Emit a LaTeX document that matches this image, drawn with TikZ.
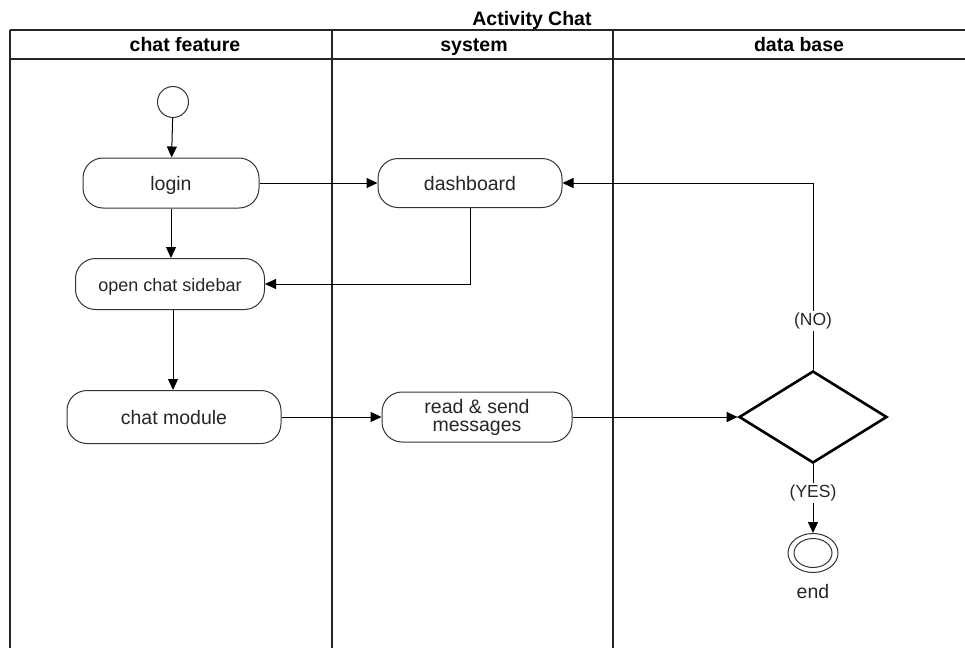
\documentclass[tikz,border=0pt]{standalone}
\usepackage{fontspec}
\setmainfont{Liberation Sans}
\usetikzlibrary{shapes.geometric,arrows.meta}
\begin{document}
\begin{tikzpicture}[x=1pt,y=-1pt,
  lane/.style={draw=black!85,line width=1.2pt},
  actbox/.style={draw=black!80,line width=1pt,rounded corners=20pt,fill=white,
    font=\fontsize{19.5}{19}\selectfont,text=black!85,align=center},
  act/.style={actbox,text height=14pt,text depth=0pt},
  flow/.style={draw=black,line width=1pt,-{Triangle[length=11pt,width=10pt]}},
  lbl/.style={fill=white,font=\fontsize{17.5}{19}\selectfont,text=black!85,inner sep=2pt},
  hdr/.style={font=\bfseries\fontsize{19.5}{21}\selectfont,anchor=base}]
\useasboundingbox (0,0) rectangle (965,648);
\fill[white] (0,0) rectangle (965,648);

% swimlane frame
\node[hdr] (title) at (532,25) {Activity Chat};
\draw[lane] (10,30) -- (965,30);
\draw[lane] (10,59) -- (965,59);
\draw[lane] (10,30) -- (10,648);
\draw[lane] (332,30) -- (332,648);
\draw[lane] (613,30) -- (613,648);
\node[hdr] (lane1) at (185,51.5) {chat feature};
\node[hdr] (lane2) at (474,51.5) {system};
\node[hdr] (lane3) at (799,51.5) {data base};

% activities
\node[draw=black!80,line width=1pt,circle,minimum size=31pt,inner sep=0pt] (start) at (173,102) {};
\node[act,minimum width=176pt,minimum height=50pt] (login) at (171,183) {login};
\node[act,minimum width=189pt,minimum height=51pt,font=\fontsize{18}{19}\selectfont] (sidebar) at (170,284) {open chat sidebar};
\node[act,minimum width=214pt,minimum height=53pt] (module) at (174,417) {chat module};
\node[act,minimum width=184pt,minimum height=49pt] (dash) at (470,183) {dashboard};
\node[actbox,minimum width=190pt,minimum height=50pt,font=\fontsize{19.5}{18}\selectfont] (rs) at (477,417) {read \& send\\messages};
\node[diamond,draw=black,line width=2.6pt,minimum width=148pt,minimum height=92pt,inner sep=0pt,aspect=1.6] (dec) at (813,417) {};
\node[ellipse,draw=black!80,line width=1pt,minimum width=50pt,minimum height=39pt,inner sep=0pt] (endo) at (813,553) {};
\node[ellipse,draw=black!80,line width=1pt,minimum width=38pt,minimum height=29pt,inner sep=0pt] (endi) at (813,553) {};
\node[font=\fontsize{19.5}{21}\selectfont,text=black!85,anchor=base] (endlbl) at (813,598) {end};

% control flow
\draw[flow] (start) -- (login);
\draw[flow] (login) -- (sidebar.north -| login.south);
\draw[flow] (sidebar.south -| start.south) -- (module.north -| start.south);
\draw[flow] (login) -- (dash);
\draw[flow] (dash.south) |- (sidebar.east);
\draw[flow] (module) -- (rs);
\draw[flow] (rs) -- (dec.west);
\draw[flow] (dec.north) |- node[lbl,pos=0.13] (no) {(NO)} (dash.east);
\draw[flow] (dec.south) -- node[lbl,pos=0.42] (yes) {(YES)} (endo.north);
\end{tikzpicture}
\end{document}
